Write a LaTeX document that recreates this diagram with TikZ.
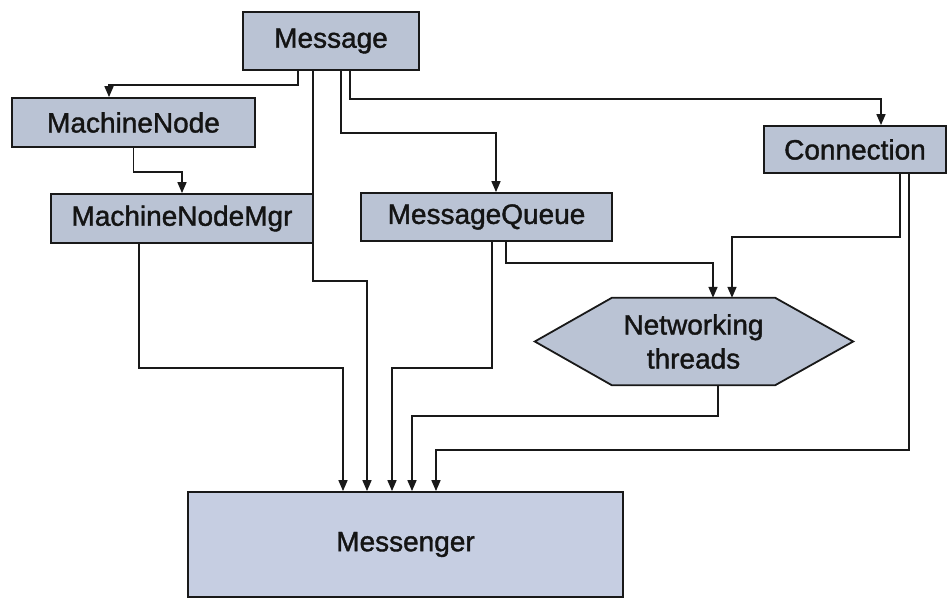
\documentclass[tikz,border=0pt]{standalone}
\usepackage{fontspec}
\setmainfont[FakeBold=1.4,AutoFakeBold=1.4]{Liberation Sans}
\usetikzlibrary{arrows.meta,backgrounds}
\definecolor{boxfill}{RGB}{186,195,212}
\definecolor{msgrfill}{RGB}{198,206,226}
\begin{document}
\begin{tikzpicture}[x=1pt,y=-1pt,
  lbl/.style={font=\fontsize{28}{34}\selectfont\bfseries, text=black!92},
  box/.style={lbl, draw=black!90, line width=1.8pt, fill=boxfill, inner sep=0pt},
  link/.style={line width=1.6pt, draw=black!90, -{Triangle[length=11pt,width=9pt]}},
]
\useasboundingbox (0,0) rectangle (950,598);

% components
\node[box, minimum width=176pt, minimum height=58pt] (msg)  at (331,41)    {Message};
\node[box, minimum width=243pt, minimum height=49pt] (mn)   at (133.5,122.5) {MachineNode};
\node[box, minimum width=262pt, minimum height=49pt] (mgr)  at (182,218.5) {MachineNodeMgr};
\node[box, minimum width=251pt, minimum height=48pt] (mq)   at (486.5,217) {MessageQueue};
\node[box, minimum width=182pt, minimum height=47pt] (conn) at (855,149.5) {Connection};
\node[box, fill=msgrfill, minimum width=435pt, minimum height=105pt] (msgr) at (405.5,544.5) {Messenger};

% networking threads: hexagon behind a text node
\node[lbl, inner sep=0pt, minimum width=163pt, minimum height=87pt, align=center] (net) at (693.5,341.5) {Networking\\threads};
\begin{scope}[on background layer]
  \draw[draw=black!90, line width=1.8pt, fill=boxfill, line join=miter]
    (net.north west) -- (net.north east) -- ([xshift=78pt]net.east)
    -- (net.south east) -- (net.south west) -- ([xshift=-77pt]net.west) -- cycle;
\end{scope}

% dependencies
\draw[link] ([xshift=-33pt]msg.south) -- ++(0,14)  -| ([xshift=-24.5pt]mn.north);
\draw[link] (mn.south)                -- ++(0,24)  -| (mgr.north);
\draw[link] ([xshift=-18pt]msg.south) -- ++(0,210) -| ([xshift=-38.5pt]msgr.north);
\draw[link] ([xshift=-43pt]mgr.south) -- ++(0,124) -| ([xshift=-62.5pt]msgr.north);
\draw[link] ([xshift=10pt]msg.south)  -- ++(0,62)  -| ([xshift=9.5pt]mq.north);
\draw[link] ([xshift=19pt]msg.south)  -- ++(0,28)  -| ([xshift=26pt]conn.north);
\draw[link] ([xshift=5.5pt]mq.south)  -- ++(0,126) -| ([xshift=-13.5pt]msgr.north);
\draw[link] ([xshift=19.5pt]mq.south) -- ++(0,21)  -| ([xshift=19.5pt]net.north);
\draw[link] ([xshift=45pt]conn.south) -- ++(0,63)  -| ([xshift=38.5pt]net.north);
\draw[link] ([xshift=54pt]conn.south) -- ++(0,276) -| ([xshift=30.5pt]msgr.north);
\draw[link] ([xshift=24.5pt]net.south) -- ++(0,31) -| ([xshift=6.5pt]msgr.north);
\end{tikzpicture}
\end{document}
